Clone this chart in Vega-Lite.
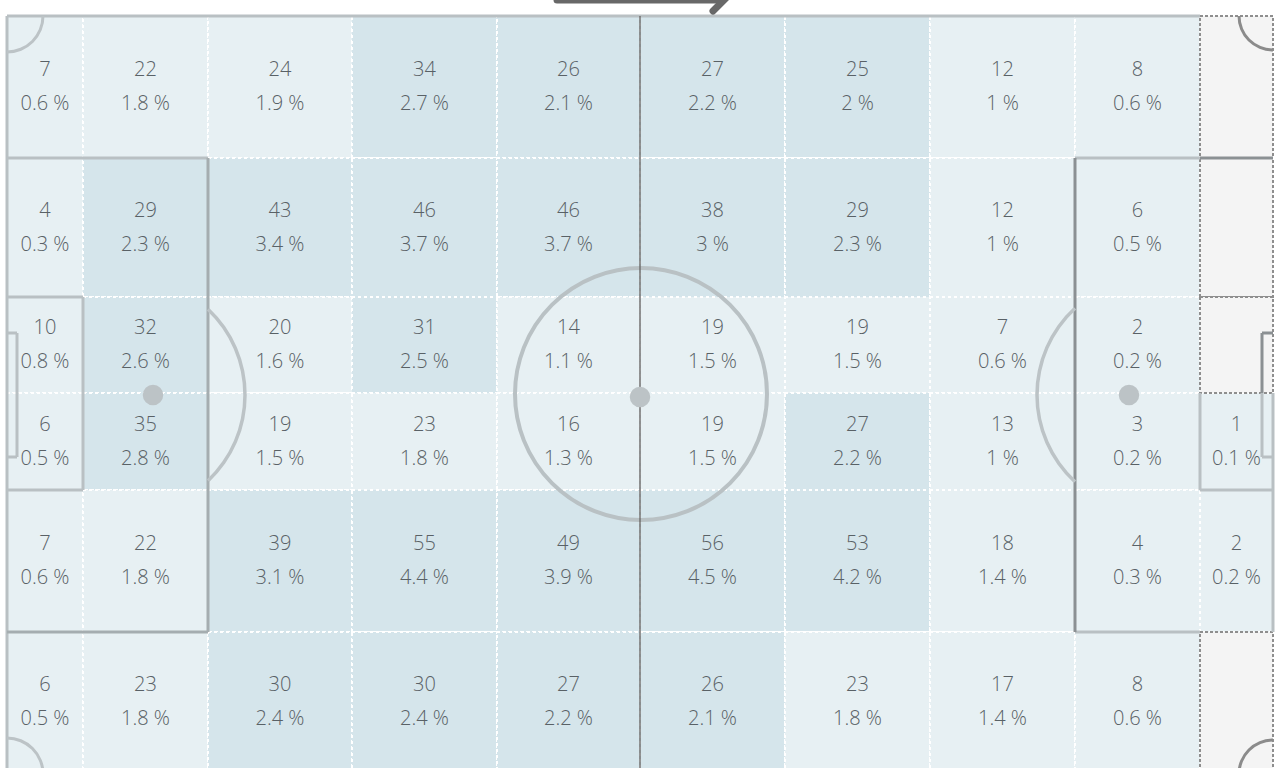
{
  "$schema": "https://vega.github.io/schema/vega-lite/v6.json",
  "width": 1275,
  "height": 768,
  "autosize": {"type": "none"},
  "padding": 0,
  "background": "white",
  "config": {"view": {"stroke": null}},
  "datasets": {
    "cells": [
      {"x":7,"x2":83,"y":16,"y2":158,"cx":45,"cy":87,"count":7,"pct":"0.6 %"},
      {"x":83,"x2":208,"y":16,"y2":158,"cx":145.5,"cy":87,"count":22,"pct":"1.8 %"},
      {"x":208,"x2":352,"y":16,"y2":158,"cx":280,"cy":87,"count":24,"pct":"1.9 %"},
      {"x":352,"x2":497,"y":16,"y2":158,"cx":424.5,"cy":87,"count":34,"pct":"2.7 %"},
      {"x":497,"x2":640,"y":16,"y2":158,"cx":568.5,"cy":87,"count":26,"pct":"2.1 %"},
      {"x":640,"x2":785,"y":16,"y2":158,"cx":712.5,"cy":87,"count":27,"pct":"2.2 %"},
      {"x":785,"x2":930,"y":16,"y2":158,"cx":857.5,"cy":87,"count":25,"pct":"2 %"},
      {"x":930,"x2":1075,"y":16,"y2":158,"cx":1002.5,"cy":87,"count":12,"pct":"1 %"},
      {"x":1075,"x2":1200,"y":16,"y2":158,"cx":1137.5,"cy":87,"count":8,"pct":"0.6 %"},

      {"x":7,"x2":83,"y":158,"y2":297,"cx":45,"cy":227.5,"count":4,"pct":"0.3 %"},
      {"x":83,"x2":208,"y":158,"y2":297,"cx":145.5,"cy":227.5,"count":29,"pct":"2.3 %"},
      {"x":208,"x2":352,"y":158,"y2":297,"cx":280,"cy":227.5,"count":43,"pct":"3.4 %"},
      {"x":352,"x2":497,"y":158,"y2":297,"cx":424.5,"cy":227.5,"count":46,"pct":"3.7 %"},
      {"x":497,"x2":640,"y":158,"y2":297,"cx":568.5,"cy":227.5,"count":46,"pct":"3.7 %"},
      {"x":640,"x2":785,"y":158,"y2":297,"cx":712.5,"cy":227.5,"count":38,"pct":"3 %"},
      {"x":785,"x2":930,"y":158,"y2":297,"cx":857.5,"cy":227.5,"count":29,"pct":"2.3 %"},
      {"x":930,"x2":1075,"y":158,"y2":297,"cx":1002.5,"cy":227.5,"count":12,"pct":"1 %"},
      {"x":1075,"x2":1200,"y":158,"y2":297,"cx":1137.5,"cy":227.5,"count":6,"pct":"0.5 %"},

      {"x":7,"x2":83,"y":297,"y2":393,"cx":45,"cy":345,"count":10,"pct":"0.8 %"},
      {"x":83,"x2":208,"y":297,"y2":393,"cx":145.5,"cy":345,"count":32,"pct":"2.6 %"},
      {"x":208,"x2":352,"y":297,"y2":393,"cx":280,"cy":345,"count":20,"pct":"1.6 %"},
      {"x":352,"x2":497,"y":297,"y2":393,"cx":424.5,"cy":345,"count":31,"pct":"2.5 %"},
      {"x":497,"x2":640,"y":297,"y2":393,"cx":568.5,"cy":345,"count":14,"pct":"1.1 %"},
      {"x":640,"x2":785,"y":297,"y2":393,"cx":712.5,"cy":345,"count":19,"pct":"1.5 %"},
      {"x":785,"x2":930,"y":297,"y2":393,"cx":857.5,"cy":345,"count":19,"pct":"1.5 %"},
      {"x":930,"x2":1075,"y":297,"y2":393,"cx":1002.5,"cy":345,"count":7,"pct":"0.6 %"},
      {"x":1075,"x2":1200,"y":297,"y2":393,"cx":1137.5,"cy":345,"count":2,"pct":"0.2 %"},

      {"x":7,"x2":83,"y":393,"y2":490,"cx":45,"cy":442,"count":6,"pct":"0.5 %"},
      {"x":83,"x2":208,"y":393,"y2":490,"cx":145.5,"cy":442,"count":35,"pct":"2.8 %"},
      {"x":208,"x2":352,"y":393,"y2":490,"cx":280,"cy":442,"count":19,"pct":"1.5 %"},
      {"x":352,"x2":497,"y":393,"y2":490,"cx":424.5,"cy":442,"count":23,"pct":"1.8 %"},
      {"x":497,"x2":640,"y":393,"y2":490,"cx":568.5,"cy":442,"count":16,"pct":"1.3 %"},
      {"x":640,"x2":785,"y":393,"y2":490,"cx":712.5,"cy":442,"count":19,"pct":"1.5 %"},
      {"x":785,"x2":930,"y":393,"y2":490,"cx":857.5,"cy":442,"count":27,"pct":"2.2 %"},
      {"x":930,"x2":1075,"y":393,"y2":490,"cx":1002.5,"cy":442,"count":13,"pct":"1 %"},
      {"x":1075,"x2":1200,"y":393,"y2":490,"cx":1137.5,"cy":442,"count":3,"pct":"0.2 %"},
      {"x":1200,"x2":1273,"y":393,"y2":490,"cx":1236.5,"cy":442,"count":1,"pct":"0.1 %"},

      {"x":7,"x2":83,"y":490,"y2":632,"cx":45,"cy":561,"count":7,"pct":"0.6 %"},
      {"x":83,"x2":208,"y":490,"y2":632,"cx":145.5,"cy":561,"count":22,"pct":"1.8 %"},
      {"x":208,"x2":352,"y":490,"y2":632,"cx":280,"cy":561,"count":39,"pct":"3.1 %"},
      {"x":352,"x2":497,"y":490,"y2":632,"cx":424.5,"cy":561,"count":55,"pct":"4.4 %"},
      {"x":497,"x2":640,"y":490,"y2":632,"cx":568.5,"cy":561,"count":49,"pct":"3.9 %"},
      {"x":640,"x2":785,"y":490,"y2":632,"cx":712.5,"cy":561,"count":56,"pct":"4.5 %"},
      {"x":785,"x2":930,"y":490,"y2":632,"cx":857.5,"cy":561,"count":53,"pct":"4.2 %"},
      {"x":930,"x2":1075,"y":490,"y2":632,"cx":1002.5,"cy":561,"count":18,"pct":"1.4 %"},
      {"x":1075,"x2":1200,"y":490,"y2":632,"cx":1137.5,"cy":561,"count":4,"pct":"0.3 %"},
      {"x":1200,"x2":1273,"y":490,"y2":632,"cx":1236.5,"cy":561,"count":2,"pct":"0.2 %"},

      {"x":7,"x2":83,"y":632,"y2":774,"cx":45,"cy":702,"count":6,"pct":"0.5 %"},
      {"x":83,"x2":208,"y":632,"y2":774,"cx":145.5,"cy":702,"count":23,"pct":"1.8 %"},
      {"x":208,"x2":352,"y":632,"y2":774,"cx":280,"cy":702,"count":30,"pct":"2.4 %"},
      {"x":352,"x2":497,"y":632,"y2":774,"cx":424.5,"cy":702,"count":30,"pct":"2.4 %"},
      {"x":497,"x2":640,"y":632,"y2":774,"cx":568.5,"cy":702,"count":27,"pct":"2.2 %"},
      {"x":640,"x2":785,"y":632,"y2":774,"cx":712.5,"cy":702,"count":26,"pct":"2.1 %"},
      {"x":785,"x2":930,"y":632,"y2":774,"cx":857.5,"cy":702,"count":23,"pct":"1.8 %"},
      {"x":930,"x2":1075,"y":632,"y2":774,"cx":1002.5,"cy":702,"count":17,"pct":"1.4 %"},
      {"x":1075,"x2":1200,"y":632,"y2":774,"cx":1137.5,"cy":702,"count":8,"pct":"0.6 %"}
    ],
    "empty": [
      {"x":1200,"x2":1273,"y":16,"y2":158},
      {"x":1200,"x2":1273,"y":158,"y2":297},
      {"x":1200,"x2":1273,"y":297,"y2":393},
      {"x":1200,"x2":1273,"y":632,"y2":774}
    ],
    "lines": [
      {"x":7,"y":16,"x2":1200,"y2":16,"g":"light"},
      {"x":7,"y":16,"x2":7,"y2":774,"g":"light"},
      {"x":7,"y":158,"x2":208,"y2":158,"g":"light"},
      {"x":208,"y":158,"x2":208,"y2":632,"g":"mid"},
      {"x":7,"y":632,"x2":208,"y2":632,"g":"mid"},
      {"x":7,"y":297,"x2":83,"y2":297,"g":"light"},
      {"x":83,"y":297,"x2":83,"y2":490,"g":"light"},
      {"x":7,"y":490,"x2":83,"y2":490,"g":"light"},
      {"x":7,"y":333,"x2":17,"y2":333,"g":"light"},
      {"x":17,"y":333,"x2":17,"y2":457,"g":"light"},
      {"x":7,"y":457,"x2":17,"y2":457,"g":"light"},
      {"x":1075,"y":158,"x2":1200,"y2":158,"g":"light"},
      {"x":1075,"y":632,"x2":1200,"y2":632,"g":"light"},
      {"x":1200,"y":393,"x2":1200,"y2":490,"g":"light"},
      {"x":1200,"y":490,"x2":1273,"y2":490,"g":"light"},
      {"x":1262,"y":393,"x2":1262,"y2":457,"g":"light"},
      {"x":1262,"y":457,"x2":1273,"y2":457,"g":"light"},
      {"x":1273,"y":393,"x2":1273,"y2":632,"g":"light"},
      {"x":1075,"y":158,"x2":1075,"y2":632,"g":"dark"},
      {"x":1200,"y":158,"x2":1273,"y2":158,"g":"dark"},
      {"x":1262,"y":333,"x2":1273,"y2":333,"g":"dark"},
      {"x":1262,"y":333,"x2":1262,"y2":393,"g":"dark"},
      {"x":640,"y":16,"x2":640,"y2":774,"g":"half"}
    ],
    "arrow": [
      {"x":557,"y":0,"x2":722,"y2":0},
      {"x":727,"y":-3,"x2":713,"y2":11}
    ],
    "centre": [{"x":641,"y":394}],
    "spots": [{"x":153,"y":395},{"x":1129,"y":395},{"x":640,"y":397}],
    "arcs": [
      {"x":127,"y":395,"side":"left"},
      {"x":1155,"y":395,"side":"right"}
    ],
    "corners": [
      {"x":7,"y":16,"c":"tl"},
      {"x":1273,"y":16,"c":"tr"},
      {"x":7,"y":774,"c":"bl"},
      {"x":1273,"y":774,"c":"br"}
    ]
  },
  "layer": [
    {
      "data": {"name": "cells"},
      "mark": {"type": "rect", "stroke": "white", "strokeWidth": 2, "strokeDash": [3, 3]},
      "encoding": {
        "x": {"field": "x", "type": "quantitative", "scale": {"domain": [0, 1275], "nice": false, "zero": false}, "axis": null},
        "x2": {"field": "x2"},
        "y": {"field": "y", "type": "quantitative", "scale": {"domain": [0, 768], "nice": false, "zero": false, "reverse": true}, "axis": null},
        "y2": {"field": "y2"},
        "fill": {"field": "count", "type": "quantitative", "scale": {"type": "threshold", "domain": [25], "range": ["#e7f0f3", "#d5e5eb"]}, "legend": null}
      }
    },
    {
      "data": {"name": "empty"},
      "mark": {"type": "rect", "fill": "#f4f4f4", "stroke": "#8e8e8e", "strokeWidth": 2, "strokeDash": [3, 2]},
      "encoding": {
        "x": {"field": "x", "type": "quantitative", "scale": {"domain": [0, 1275], "nice": false, "zero": false}, "axis": null},
        "x2": {"field": "x2"},
        "y": {"field": "y", "type": "quantitative", "scale": {"domain": [0, 768], "nice": false, "zero": false, "reverse": true}, "axis": null},
        "y2": {"field": "y2"}
      }
    },
    {
      "data": {"name": "lines"},
      "transform": [{"filter": "datum.g === 'light'"}],
      "mark": {"type": "rule", "color": "#b9c0c3", "strokeWidth": 3},
      "encoding": {
        "x": {"field": "x", "type": "quantitative", "scale": {"domain": [0, 1275], "nice": false, "zero": false}, "axis": null},
        "x2": {"field": "x2"},
        "y": {"field": "y", "type": "quantitative", "scale": {"domain": [0, 768], "nice": false, "zero": false, "reverse": true}, "axis": null},
        "y2": {"field": "y2"}
      }
    },
    {
      "data": {"name": "lines"},
      "transform": [{"filter": "datum.g === 'mid'"}],
      "mark": {"type": "rule", "color": "#a5adb0", "strokeWidth": 3},
      "encoding": {
        "x": {"field": "x", "type": "quantitative", "scale": {"domain": [0, 1275], "nice": false, "zero": false}, "axis": null},
        "x2": {"field": "x2"},
        "y": {"field": "y", "type": "quantitative", "scale": {"domain": [0, 768], "nice": false, "zero": false, "reverse": true}, "axis": null},
        "y2": {"field": "y2"}
      }
    },
    {
      "data": {"name": "lines"},
      "transform": [{"filter": "datum.g === 'dark'"}],
      "mark": {"type": "rule", "color": "#8b9093", "strokeWidth": 3},
      "encoding": {
        "x": {"field": "x", "type": "quantitative", "scale": {"domain": [0, 1275], "nice": false, "zero": false}, "axis": null},
        "x2": {"field": "x2"},
        "y": {"field": "y", "type": "quantitative", "scale": {"domain": [0, 768], "nice": false, "zero": false, "reverse": true}, "axis": null},
        "y2": {"field": "y2"}
      }
    },
    {
      "data": {"name": "centre"},
      "mark": {"type": "point", "shape": "circle", "filled": false, "stroke": "#b9c1c4", "strokeWidth": 4, "size": 63504, "opacity": 1},
      "encoding": {
        "x": {"field": "x", "type": "quantitative", "scale": {"domain": [0, 1275], "nice": false, "zero": false}, "axis": null},
        "y": {"field": "y", "type": "quantitative", "scale": {"domain": [0, 768], "nice": false, "zero": false, "reverse": true}, "axis": null}
      }
    },
    {
      "data": {"name": "lines"},
      "transform": [{"filter": "datum.g === 'half'"}],
      "mark": {"type": "rule", "color": "#6e6e6e", "strokeWidth": 1.5},
      "encoding": {
        "x": {"field": "x", "type": "quantitative", "scale": {"domain": [0, 1275], "nice": false, "zero": false}, "axis": null},
        "x2": {"field": "x2"},
        "y": {"field": "y", "type": "quantitative", "scale": {"domain": [0, 768], "nice": false, "zero": false, "reverse": true}, "axis": null},
        "y2": {"field": "y2"}
      }
    },
    {
      "data": {"name": "spots"},
      "mark": {"type": "point", "shape": "circle", "filled": true, "color": "#bcc3c6", "size": 420, "opacity": 1},
      "encoding": {
        "x": {"field": "x", "type": "quantitative", "scale": {"domain": [0, 1275], "nice": false, "zero": false}, "axis": null},
        "y": {"field": "y", "type": "quantitative", "scale": {"domain": [0, 768], "nice": false, "zero": false, "reverse": true}, "axis": null}
      }
    },
    {
      "data": {"name": "arcs"},
      "transform": [{"filter": "datum.side === 'left'"}],
      "mark": {"type": "arc", "fill": "#bcc3c6", "radius": 119.75, "radius2": 116.25, "theta": 0.757, "theta2": 2.384},
      "encoding": {
        "x": {"field": "x", "type": "quantitative", "scale": {"domain": [0, 1275], "nice": false, "zero": false}, "axis": null},
        "y": {"field": "y", "type": "quantitative", "scale": {"domain": [0, 768], "nice": false, "zero": false, "reverse": true}, "axis": null}
      }
    },
    {
      "data": {"name": "arcs"},
      "transform": [{"filter": "datum.side === 'right'"}],
      "mark": {"type": "arc", "fill": "#bcc3c6", "radius": 119.75, "radius2": 116.25, "theta": 3.887, "theta2": 5.538},
      "encoding": {
        "x": {"field": "x", "type": "quantitative", "scale": {"domain": [0, 1275], "nice": false, "zero": false}, "axis": null},
        "y": {"field": "y", "type": "quantitative", "scale": {"domain": [0, 768], "nice": false, "zero": false, "reverse": true}, "axis": null}
      }
    },
    {
      "data": {"name": "corners"},
      "transform": [{"filter": "datum.c === 'tl'"}],
      "mark": {"type": "arc", "fill": "#bcc3c6", "radius": 37.5, "radius2": 34.5, "theta": 1.5708, "theta2": 3.1416},
      "encoding": {
        "x": {"field": "x", "type": "quantitative", "scale": {"domain": [0, 1275], "nice": false, "zero": false}, "axis": null},
        "y": {"field": "y", "type": "quantitative", "scale": {"domain": [0, 768], "nice": false, "zero": false, "reverse": true}, "axis": null}
      }
    },
    {
      "data": {"name": "corners"},
      "transform": [{"filter": "datum.c === 'bl'"}],
      "mark": {"type": "arc", "fill": "#bcc3c6", "radius": 37.5, "radius2": 34.5, "theta": 0, "theta2": 1.5708},
      "encoding": {
        "x": {"field": "x", "type": "quantitative", "scale": {"domain": [0, 1275], "nice": false, "zero": false}, "axis": null},
        "y": {"field": "y", "type": "quantitative", "scale": {"domain": [0, 768], "nice": false, "zero": false, "reverse": true}, "axis": null}
      }
    },
    {
      "data": {"name": "corners"},
      "transform": [{"filter": "datum.c === 'tr'"}],
      "mark": {"type": "arc", "fill": "#8b8b8b", "radius": 35.5, "radius2": 32.5, "theta": 3.1416, "theta2": 4.7124},
      "encoding": {
        "x": {"field": "x", "type": "quantitative", "scale": {"domain": [0, 1275], "nice": false, "zero": false}, "axis": null},
        "y": {"field": "y", "type": "quantitative", "scale": {"domain": [0, 768], "nice": false, "zero": false, "reverse": true}, "axis": null}
      }
    },
    {
      "data": {"name": "corners"},
      "transform": [{"filter": "datum.c === 'br'"}],
      "mark": {"type": "arc", "fill": "#8b8b8b", "radius": 35.5, "radius2": 32.5, "theta": 4.7124, "theta2": 6.2832},
      "encoding": {
        "x": {"field": "x", "type": "quantitative", "scale": {"domain": [0, 1275], "nice": false, "zero": false}, "axis": null},
        "y": {"field": "y", "type": "quantitative", "scale": {"domain": [0, 768], "nice": false, "zero": false, "reverse": true}, "axis": null}
      }
    },
    {
      "data": {"name": "arrow"},
      "mark": {"type": "rule", "color": "#686868", "strokeWidth": 7, "strokeCap": "round"},
      "encoding": {
        "x": {"field": "x", "type": "quantitative", "scale": {"domain": [0, 1275], "nice": false, "zero": false}, "axis": null},
        "x2": {"field": "x2"},
        "y": {"field": "y", "type": "quantitative", "scale": {"domain": [0, 768], "nice": false, "zero": false, "reverse": true}, "axis": null},
        "y2": {"field": "y2"}
      }
    },
    {
      "data": {"name": "cells"},
      "mark": {"type": "text", "font": "Open Sans", "fontSize": 20, "fontWeight": 300, "color": "#596166", "dy": -17, "baseline": "middle", "align": "center"},
      "encoding": {
        "x": {"field": "cx", "type": "quantitative", "scale": {"domain": [0, 1275], "nice": false, "zero": false}, "axis": null},
        "y": {"field": "cy", "type": "quantitative", "scale": {"domain": [0, 768], "nice": false, "zero": false, "reverse": true}, "axis": null},
        "text": {"field": "count", "type": "quantitative"}
      }
    },
    {
      "data": {"name": "cells"},
      "mark": {"type": "text", "font": "Open Sans", "fontSize": 20, "fontWeight": 300, "color": "#596166", "dy": 17, "baseline": "middle", "align": "center"},
      "encoding": {
        "x": {"field": "cx", "type": "quantitative", "scale": {"domain": [0, 1275], "nice": false, "zero": false}, "axis": null},
        "y": {"field": "cy", "type": "quantitative", "scale": {"domain": [0, 768], "nice": false, "zero": false, "reverse": true}, "axis": null},
        "text": {"field": "pct", "type": "nominal"}
      }
    }
  ]
}
